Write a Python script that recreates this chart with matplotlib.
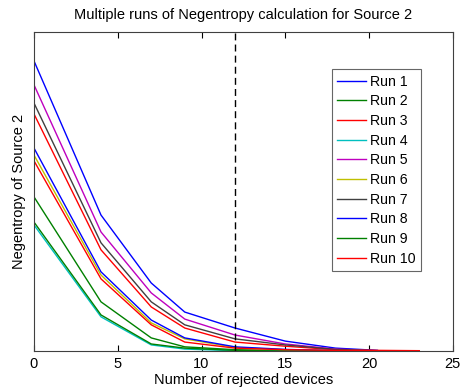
import numpy as np
import matplotlib.pyplot as plt

plt.rcParams['font.family'] = ['Liberation Sans', 'DejaVu Sans']

# number of rejected devices where the negentropy was evaluated
x_pts = [0, 4, 7, 9, 12, 15, 18, 20.5, 23]
nan = np.nan

# negentropy values (arbitrary units, y axis has no labels)
run1 = [0.909, 0.426, 0.213, 0.122, 0.072, 0.031, 0.009, 0.002, nan]
run2 = [0.483, 0.154, 0.041, 0.013, 0.004, 0.001, 0.000, 0.000, nan]
run3 = [0.743, 0.317, 0.138, 0.072, 0.028, 0.015, 0.004, 0.001, nan]
run4 = [0.395, 0.107, 0.019, 0.006, 0.001, 0.000, 0.000, 0.000, nan]
run5 = [0.834, 0.373, 0.182, 0.100, 0.050, 0.022, 0.006, 0.001, nan]
run6 = [0.614, 0.238, 0.088, 0.038, 0.011, 0.004, 0.001, 0.000, nan]
run7 = [0.777, 0.339, 0.154, 0.082, 0.038, 0.019, 0.005, 0.001, nan]
run8 = [0.636, 0.248, 0.097, 0.041, 0.013, 0.005, 0.001, 0.000, nan]
run9 = [0.404, 0.113, 0.022, 0.009, 0.002, 0.000, 0.000, 0.000, nan]
run10 = [0.596, 0.226, 0.082, 0.028, 0.009, 0.004, 0.002, 0.002, 0.001]

runs = [run1, run2, run3, run4, run5, run6, run7, run8, run9, run10]
labels = [f"Run {i}" for i in range(1, 11)]
threshold = 12

# matlab default line colours
colors = ["#0000ff", "#008000", "#ff0000", "#00bfbf", "#bf00bf",
          "#bfbf00", "#404040", "#0000ff", "#008000", "#ff0000"]

fig = plt.figure(figsize=(4.63, 3.89), dpi=100)
ax = fig.add_axes([0.0734, 0.0977, 0.9046, 0.8203])

for y, lab, c in zip(runs, labels, colors):
    ax.plot(x_pts, y, color=c, lw=1, label=lab)

ax.axvline(threshold, color="black", ls="--", lw=1, dashes=(5, 3))

ax.set_xlim(0, 25)
ax.set_ylim(0, 1)
ax.set_xticks(range(0, 26, 5))
ax.set_yticks([])
ax.tick_params(axis="x", direction="in", top=True, length=4, labelsize=10.5, pad=4)
for s in ax.spines.values():
    s.set_color("#404040")
    s.set_linewidth(0.8)

ax.set_title("Multiple runs of Negentropy calculation for Source 2", fontsize=10.5, pad=9)
ax.set_xlabel("Number of rejected devices", fontsize=10.5, labelpad=2)
ax.set_ylabel("Negentropy of Source 2", fontsize=10.5, labelpad=6)

leg = ax.legend(loc="upper left", bbox_to_anchor=(0.711, 0.884), borderaxespad=0,
                fancybox=False, edgecolor="#404040", fontsize=10.2,
                handlelength=2.0, labelspacing=0.4, handletextpad=0.3,
                borderpad=0.4)
leg.get_frame().set_linewidth(0.8)

fig.savefig("out.png", dpi=100)
